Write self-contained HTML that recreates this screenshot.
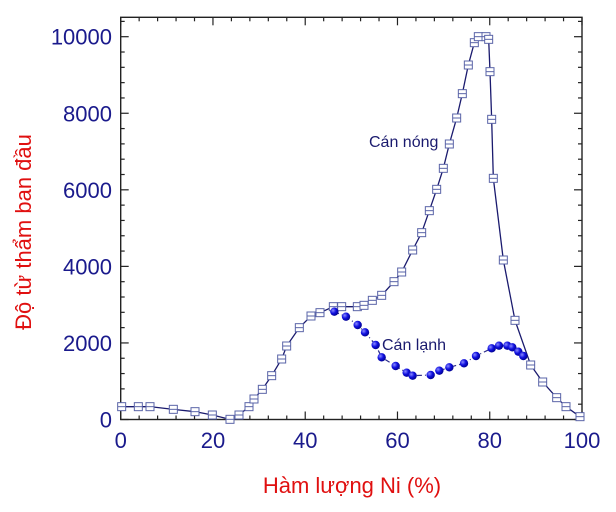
<!DOCTYPE html>
<html><head><meta charset="utf-8"><style>
html,body{margin:0;padding:0;background:#fff;width:616px;height:512px;overflow:hidden}
svg text{font-family:"Liberation Sans",sans-serif}
</style></head><body>
<svg id="s" width="616" height="512" viewBox="0 0 616 512" xmlns="http://www.w3.org/2000/svg">
<defs>
<radialGradient id="g" cx="0.35" cy="0.35" r="0.7">
<stop offset="0" stop-color="#8a8aff"/><stop offset="0.5" stop-color="#1010e0"/><stop offset="1" stop-color="#00008a"/>
</radialGradient>
</defs>
<rect x="120.7" y="17.3" width="461.3" height="402.2" fill="none" stroke="#222" stroke-width="1.4"/>
<g id="ticks" stroke="#222" stroke-width="1.2"></g>
<g id="lbl" fill="#1a1a8c" font-size="22"></g>
<text x="352" y="493" font-size="22" fill="#e01010" text-anchor="middle">Hàm lượng Ni (%)</text>
<text transform="translate(31,232) rotate(-90)" font-size="22" fill="#e01010" text-anchor="middle">Độ từ thẩm ban đầu</text>
<g id="hot"></g>
<g id="cold"></g>
<text x="369" y="147" font-size="16" fill="#1a1a6e">Cán nóng</text>
<text x="382" y="350" font-size="16" fill="#1a1a6e">Cán lạnh</text>
</svg>
<script>
var NS="http://www.w3.org/2000/svg";
function el(p,t,a,txt){var e=document.createElementNS(NS,t);for(var k in a)e.setAttribute(k,a[k]);if(txt!=null)e.textContent=txt;p.appendChild(e);return e;}
var L=120.7,R=582,T=17.3,B=419.5;
var X=function(v){return L+v*(R-L)/100};
var Y=function(v){return B-v*0.03828};
var tk=document.getElementById('ticks'),lb=document.getElementById('lbl');
for(var v=0;v<=100;v+=4){var x=X(v),len=(v%20==0)?8:4;
 el(tk,'line',{x1:x,y1:B,x2:x,y2:B-len});el(tk,'line',{x1:x,y1:T,x2:x,y2:T+len});
 if(v%20==0)el(lb,'text',{x:x,y:448,'text-anchor':'middle'},v);}
for(var v=0;v<=10400;v+=400){var y=Y(v),len=(v%2000==0)?8:4;
 el(tk,'line',{x1:L,y1:y,x2:L+len,y2:y});el(tk,'line',{x1:R,y1:y,x2:R-len,y2:y});
 if(v%2000==0)el(lb,'text',{x:112,y:y+8,'text-anchor':'end'},v);}
var hot=[[65,1220],[115,1220],[150,1220],[220,1228],[285,1235],[337,1245],[390,1258],[417,1245],[447,1220],[462,1197],[487,1168],[515,1127],[545,1077],[560,1038],[598,983],[633,948],[660,938],[700,920],[725,920],[772,920],[792,916],[817,901],[845,886],[882,845],[905,816],[938,750],[965,698],[988,632],[1010,568],[1030,505],[1048,432],[1070,354],[1087,281],[1105,195],[1123,128],[1135,110],[1158,110],[1166,118],[1170,215],[1175,358],[1180,535],[1210,780],[1245,961],[1292,1095],[1328,1146],[1370,1193],[1398,1220],[1440,1250]];
var cold=[[703,935],[738,950],[773,975],[795,997],[827,1035],[845,1072],[887,1098],[920,1118],[938,1127],[992,1125],[1018,1112],[1048,1102],[1092,1090],[1128,1068],[1175,1045],[1197,1037],[1222,1037],[1237,1042],[1255,1055],[1270,1068]];
function P(a){return a.map(function(p){return [100+p[0]/3,p[1]/3]})}
hot=P(hot);cold=P(cold);
var h=document.getElementById('hot'),c=document.getElementById('cold');
el(h,'polyline',{points:hot.map(function(p){return p.join(',')}).join(' '),fill:'none',stroke:'#1a1a6e','stroke-width':1.3});
hot.forEach(function(p){el(h,'rect',{x:p[0]-4,y:p[1]-4,width:8,height:8,fill:'#fff',stroke:'#5a64a8','stroke-width':1});
 el(h,'line',{x1:p[0]-4,y1:p[1],x2:p[0]+4,y2:p[1],stroke:'#5a64a8','stroke-width':1});});
el(c,'polyline',{points:cold.map(function(p){return p.join(',')}).join(' '),fill:'none',stroke:'#2a2a8a','stroke-width':1.2,'stroke-dasharray':'5,3,1,3'});
cold.forEach(function(p){el(c,'circle',{cx:p[0],cy:p[1],r:4.2,fill:'url(#g)'});});
</script>
</body></html>
